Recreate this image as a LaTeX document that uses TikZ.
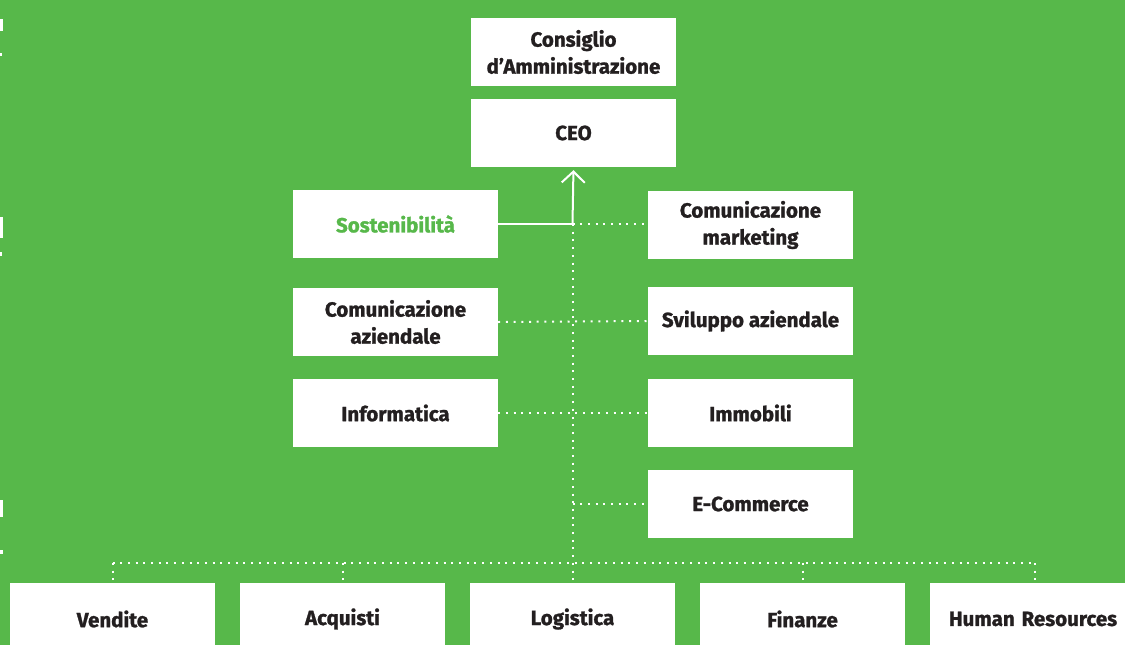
\documentclass[tikz,border=0pt]{standalone}
\usepackage{fontspec}
\setsansfont{Fira Sans}[BoldFeatures={FakeBold=1.2}]
\usetikzlibrary{arrows.meta}
\definecolor{bggreen}{RGB}{87,184,74}
\definecolor{txtdark}{RGB}{35,31,32}
\tikzset{
  box/.style={fill=white, draw=none, minimum width=205pt, minimum height=68pt, inner sep=0pt,
    align=center, font=\sffamily\bfseries\fontsize{20.5}{27}\selectfont, text=txtdark},
  lowbox/.style={box, minimum height=72pt},
  solidline/.style={draw=white, line width=2pt},
  dotline/.style={draw=white, line width=2pt, dash pattern=on 2pt off 5.7pt},
}
\begin{document}
\begin{tikzpicture}[x=1pt,y=-1pt]
\useasboundingbox (0,0) rectangle (1125,645);
\clip (0,0) rectangle (1125,645);
\fill[bggreen] (0,0) rectangle (1125,645);
% small white marks at the left edge
\fill[white] (0,19) rectangle (3,31);
\fill[white] (0,53) rectangle (2,56);
\fill[white] (0,217) rectangle (3,238);
\fill[white] (0,252) rectangle (2,256);
\fill[white] (0,500) rectangle (3,517);
\fill[white] (0,550) rectangle (3,554);

\node[box] (cda) at (573.5,52) {Consiglio\\d’Amministrazione};
\node[box] (ceo) at (573.5,133) {CEO};
\node[box, text=bggreen] (sost) at (395.5,224) {Sostenibilità};
\node[box] (cmk) at (750.5,225) {Comunicazione\\marketing};
\node[box] (caz) at (395.5,322) {Comunicazione\\aziendale};
\node[box] (svi) at (750.5,321) {Sviluppo aziendale};
\node[box] (inf) at (395.5,413) {Informatica};
\node[box] (imm) at (750.5,413) {Immobili};
\node[box] (eco) at (750.5,504) {E-Commerce};

\node[lowbox] (ven) at (112.5,619) {Vendite};
\node[lowbox] (acq) at (342.5,619) {Acquisti};
\node[lowbox] (log) at (572.5,619) {Logistica};
\node[lowbox] (fin) at (802.5,619) {Finanze};
\node[lowbox, minimum width=210pt, text width=190pt, align=left] (hr) at (1035,619) {\hspace*{9pt}Human Resources};

\coordinate (j1) at (572.5,224);
\coordinate (j2) at (572.5,504);
\coordinate (busL) at (112.5,563);
\coordinate (busR) at (1035,563);

% solid connector and arrow to CEO
\draw[solidline] (sost.east) -- (j1);
\draw[solidline, -{Straight Barb[length=11pt,width=23pt,line width=2pt]}, shorten >=3pt] (j1) -- (ceo.south);

% dotted connectors
\draw[dotline] (j1) -- (j1 -| cmk.west);
\draw[dotline] (caz.east) -- (svi.west);
\draw[dotline] (inf.east) -- (imm.west);
\draw[dotline] (j2) -- (eco.west);
\draw[dotline] (j1) -- (log.north);
\draw[dotline] (busL) -- (busR);
\draw[dotline] (busL) -- (ven.north);
\draw[dotline] (acq.north |- busL) -- (acq.north);
\draw[dotline] (fin.north |- busL) -- (fin.north);
\draw[dotline] (busR) -- (hr.north);
\end{tikzpicture}
\end{document}
